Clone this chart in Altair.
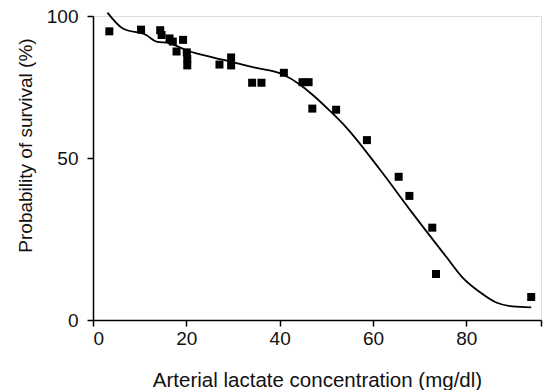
import altair as alt
import pandas as pd

# Observed points (arterial lactate mg/dl, survival %)
lactate = [3.5, 10.3, 14.4, 14.7, 16.4, 17.1, 19.3, 17.9, 20.1, 20.2, 20.2,
           27.1, 29.6, 29.6, 34.1, 36.1, 40.9, 44.9, 46.2, 47.0, 52.1, 58.7,
           65.5, 67.8, 72.7, 73.5, 93.9]
survival = [94.6, 95.2, 95.0, 93.3, 92.1, 91.0, 91.6, 87.5, 87.2, 84.9, 82.6,
            82.9, 85.4, 82.6, 76.5, 76.5, 80.0, 76.7, 76.7, 67.4, 67.0, 56.3,
            44.2, 38.3, 28.5, 14.2, 7.1]

# Fitted curve
curve_x = [3.1, 6.4, 11.4, 13.6, 16.4, 20.7, 22.8, 27.8, 35.0, 40.7, 44.3,
           47.1, 50.7, 54.2, 61.4, 68.5, 75.7, 79.2, 82.8, 86.4, 89.9, 93.9]
curve_y = [101.2, 95.6, 93.3, 91.0, 90.4, 87.5, 86.6, 84.6, 81.7, 79.4, 75.9,
           72.2, 66.7, 60.9, 46.6, 32.9, 19.5, 13.1, 8.7, 5.4, 4.2, 3.9]

x_ticks = [0, 20, 40, 60, 80, 96]
y_ticks = [0, 50, 100]

pts = pd.DataFrame({"x": lactate, "y": survival})
crv = pd.DataFrame({"x": curve_x, "y": curve_y})

FONT = "Liberation Sans"

xscale = alt.Scale(domain=[0, 96], nice=False, zero=False)
yscale = alt.Scale(domain=[0, 50, 100], range=[304, 142, 0], nice=False, zero=False)

xaxis = alt.Axis(values=x_ticks, title="Arterial lactate concentration (mg/dl)",
                 labelExpr="datum.value > 90 ? '' : datum.label",
                 grid=False, tickSize=6, tickWidth=1.5, domainWidth=1.5,
                 domainColor="black", tickColor="black", labelColor="#111",
                 titleColor="#111", labelFont=FONT, titleFont=FONT,
                 labelFontSize=19, titleFontSize=20.5, titleFontWeight="normal",
                 labelPadding=3, titleBaseline="alphabetic", titleY=66)
yaxis = alt.Axis(values=y_ticks, title="Probability of survival (%)",
                 grid=False, tickSize=6, tickWidth=1.5, domainWidth=1.5,
                 domainColor="black", tickColor="black", labelColor="#111",
                 titleColor="#111", labelFont=FONT, titleFont=FONT,
                 labelFontSize=19, titleFontSize=19, titleFontWeight="normal",
                 labelPadding=9, titleBaseline="alphabetic", titleX=-62, titleY=129,
                 titleAngle=270)

points = alt.Chart(pts).mark_square(size=64, color="black", opacity=1).encode(
    x=alt.X("x:Q", scale=xscale, axis=xaxis),
    y=alt.Y("y:Q", scale=yscale, axis=yaxis),
)
line = alt.Chart(crv).mark_line(color="black", strokeWidth=1.8, interpolate="monotone").encode(
    x=alt.X("x:Q", scale=xscale),
    y=alt.Y("y:Q", scale=yscale),
)

chart = alt.layer(line, points).properties(
    width=448, height=304,
    autosize=alt.AutoSizeParams(type="none"),
    padding={"left": 85, "top": 8, "right": 2, "bottom": 70},
).configure_view(stroke=None).configure(background="white")

chart.save("out.html", embed_options={"renderer": "svg", "actions": False})
